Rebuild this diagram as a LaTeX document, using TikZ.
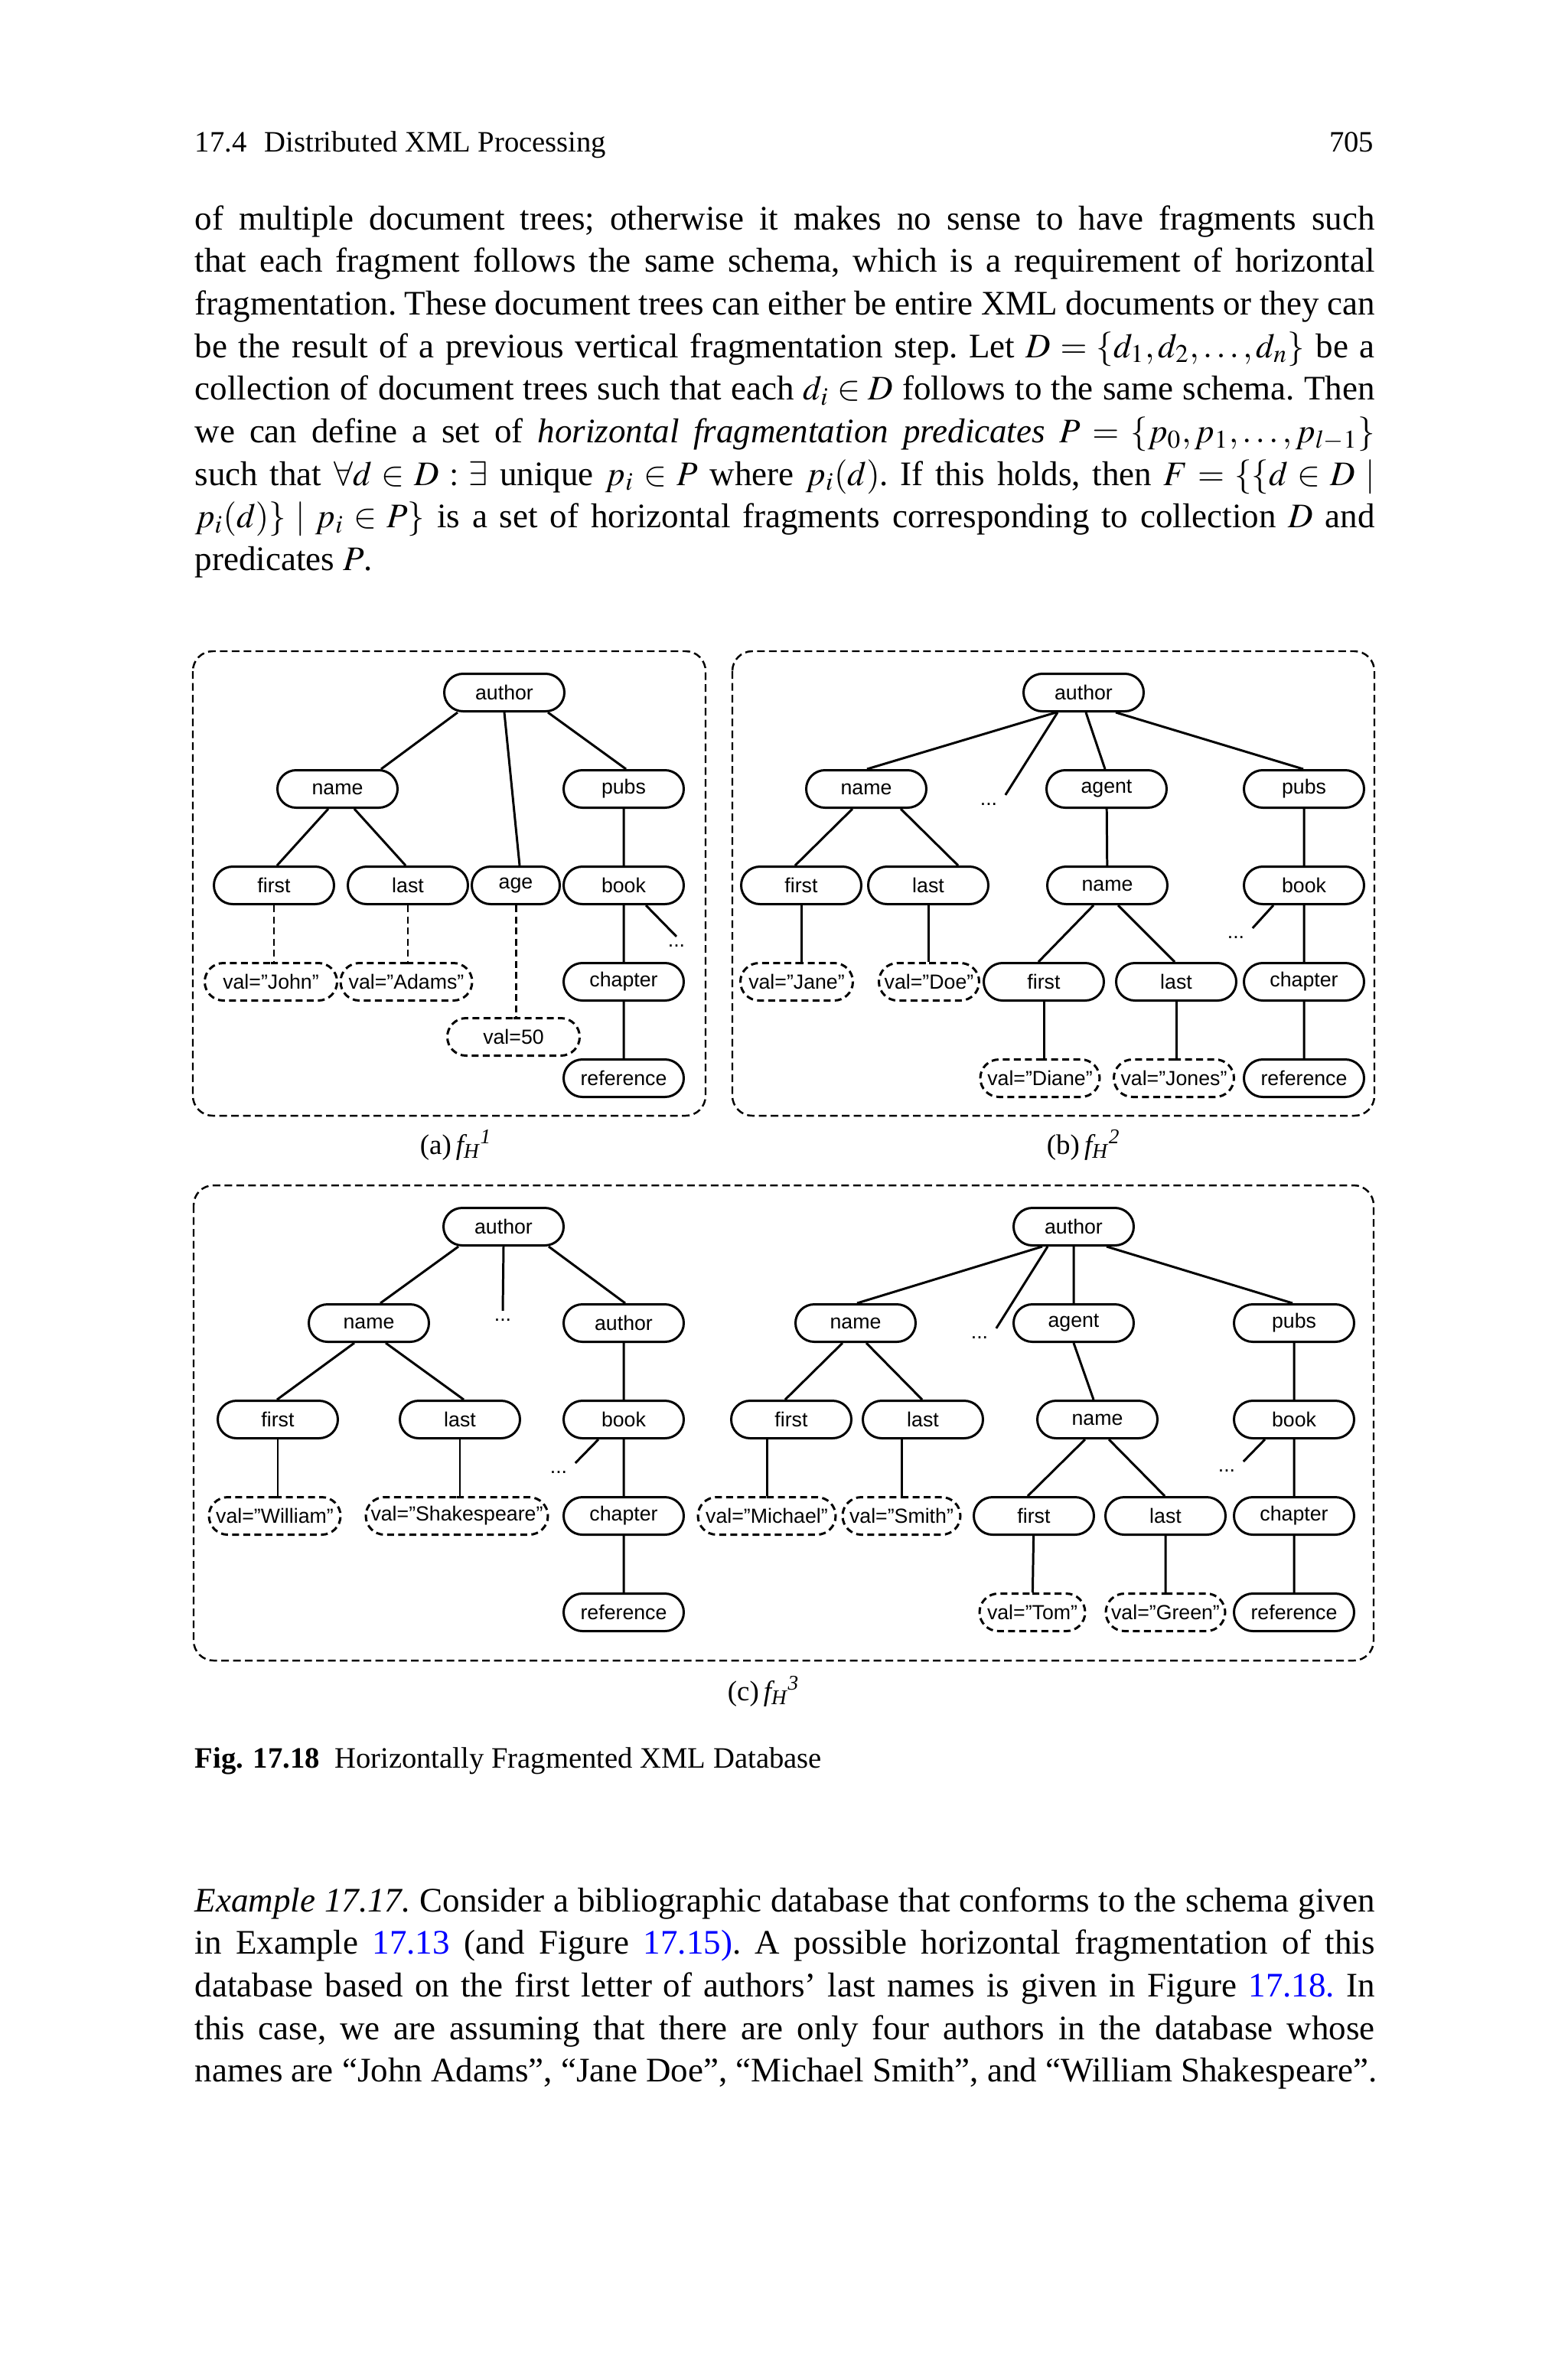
\documentclass[tikz,border=0pt]{standalone}
\usepackage{mathptmx}
\usepackage[no-math]{fontspec}
\setmainfont{Liberation Serif}
\newfontfamily\treefont{Liberation Sans}
\usetikzlibrary{shapes.misc}

\newlength\linew
\setlength\linew{15.42cm}
\newcommand\jl[1]{\hbox to\linew{#1}}
\newcommand\lastl[1]{\hbox{#1}}
\newcommand\fH[1]{\textit{f\textsubscript{H}\textsuperscript{#1}}}

\tikzset{
  elem/.style={draw, rounded rectangle, line width=0.85pt, minimum width=15.7mm,
    minimum height=4.9mm, inner sep=0pt, font=\treefont\fontsize{7.6}{9}\selectfont},
  valbox/.style={elem, dash pattern=on 0.9mm off 0.55mm},
  more/.style={inner sep=1mm, font=\treefont\fontsize{7.6}{9}\selectfont},
  link/.style={line width=0.85pt},
  hop/.style={dash pattern=on 0.9mm off 0.55mm},
  frame/.style={line width=0.7pt, dash pattern=on 1mm off 0.55mm, rounded corners=2.6mm},
  body/.style={anchor=base west, inner sep=0pt, font=\fontsize{12.8}{15.85}\selectfont},
  head/.style={inner sep=0pt, font=\fontsize{11}{13}\selectfont},
  sub/.style={anchor=base, inner sep=0pt, font=\fontsize{10.5}{12}\selectfont},
}

\begin{document}
\begin{tikzpicture}
\path[fill=white, use as bounding box] (0,0) rectangle (20.48,-31.05);

% running head
\node[head, anchor=base west] (runhead) at (2.54,-1.98) {17.4\hspace{0.6em}Distributed XML Processing};
\node[head, anchor=base east] (folio) at (17.96,-1.98) {705};

% text above the figure
\node[body] (para1) at (2.54,-3.00) {\vtop{\frenchspacing\baselineskip=5.57mm\lineskiplimit=-20pt
\jl{of multiple document trees; otherwise it makes no sense to have fragments such}
\jl{that each fragment follows the same schema, which is a requirement of horizontal}
\jl{fragmentation. These document trees can either be entire XML documents or they can}
\jl{be the result of a previous vertical fragmentation step. Let $D=\{d_1,d_2,\ldots,d_n\}$ be a}
\jl{collection of document trees such that each $d_i\in D$ follows to the same schema. Then}
\jl{we can define a set of \textit{horizontal fragmentation predicates} $P=\{p_0,p_1,\ldots,p_{l-1}\}$}
\jl{such that $\forall d\in D:\exists$ unique $p_i\in P$ where $p_i(d)$. If this holds, then $F=\{\{d\in D\mid$}
\jl{$p_i(d)\}\mid p_i\in P\}$ is a set of horizontal fragments corresponding to collection $D$ and}
\lastl{predicates $P$.}}};

% frames
\draw[frame] (2.52,-8.51) rectangle (9.22,-14.58);
\draw[frame] (9.57,-8.51) rectangle (17.96,-14.58);
\draw[frame] (2.53,-15.49) rectangle (17.95,-21.70);

% (a)
\node[elem] (A-author) at (6.59,-9.05) {author};
\node[elem] (A-name) at (4.41,-10.31) {name};
\node[elem] (A-pubs) at (8.15,-10.31) {pubs};
\node[elem] (A-first) at (3.58,-11.57) {first};
\node[elem] (A-last) at (5.33,-11.57) {last};
\node[elem, minimum width=11.5mm] (A-age) at (6.74,-11.57) {age};
\node[elem] (A-book) at (8.15,-11.57) {book};
\node[more] (A-more) at (8.84,-12.36) {...};
\node[valbox, minimum width=17.3mm] (A-john) at (3.54,-12.83) {val=”John”};
\node[valbox, minimum width=17.2mm] (A-adams) at (5.31,-12.83) {val=”Adams”};
\node[elem] (A-chapter) at (8.15,-12.83) {chapter};
\node[valbox, minimum width=17.3mm] (A-fifty) at (6.71,-13.55) {val=50};
\node[elem] (A-ref) at (8.15,-14.09) {reference};

\draw[link] ([xshift=-6.1mm]A-author.south) -- ([xshift=5.7mm]A-name.north);
\draw[link] (A-author.south) -- ([xshift=0.5mm]A-age.north);
\draw[link] ([xshift=5.7mm]A-author.south) -- ([xshift=0.3mm]A-pubs.north);
\draw[link] ([xshift=-1.2mm]A-name.south) -- ([xshift=0.4mm]A-first.north);
\draw[link] ([xshift=2.2mm]A-name.south) -- ([xshift=-0.3mm]A-last.north);
\draw[link] (A-pubs) -- (A-book);
\draw[link] (A-book) -- (A-chapter);
\draw[link] (A-chapter) -- (A-ref);
\draw[link] ([xshift=2.9mm]A-book.south) -- (A-more.north);
\draw[link, hop] (A-first.south) -- (A-first.south |- A-john.north);
\draw[link, hop] (A-last.south) -- (A-last.south |- A-adams.north);
\draw[link, hop] (A-age.south) -- (A-age.south |- A-fifty.north);
\node[sub] (cap-a) at (5.96,-15.08) {(a)\,\fH{1}};

% (b)
\node[elem] (B-author) at (14.16,-9.05) {author};
\node[elem] (B-name) at (11.32,-10.31) {name};
\node[more] (B-more1) at (12.92,-10.51) {...};
\node[elem] (B-agent) at (14.46,-10.31) {agent};
\node[elem] (B-pubs) at (17.04,-10.31) {pubs};
\node[elem] (B-first) at (10.47,-11.57) {first};
\node[elem] (B-last) at (12.13,-11.57) {last};
\node[elem] (B-aname) at (14.47,-11.57) {name};
\node[elem] (B-book) at (17.04,-11.57) {book};
\node[more] (B-more2) at (16.15,-12.25) {...};
\node[valbox, minimum width=14.7mm] (B-jane) at (10.41,-12.83) {val=”Jane”};
\node[valbox, minimum width=13.1mm] (B-doe) at (12.14,-12.83) {val=”Doe”};
\node[elem] (B-afirst) at (13.64,-12.83) {first};
\node[elem] (B-alast) at (15.37,-12.83) {last};
\node[elem] (B-chapter) at (17.04,-12.83) {chapter};
\node[valbox, minimum width=15.6mm] (B-diane) at (13.59,-14.09) {val=”Diane”};
\node[valbox, minimum width=15.7mm] (B-jones) at (15.34,-14.09) {val=”Jones”};
\node[elem] (B-ref) at (17.04,-14.09) {reference};

\draw[link] ([xshift=-3.6mm]B-author.south) -- ([xshift=0.1mm]B-name.north);
\draw[link] ([xshift=-3.4mm]B-author.south) -- (B-more1.north east);
\draw[link] ([xshift=0.3mm]B-author.south) -- ([xshift=-0.2mm]B-agent.north);
\draw[link] ([xshift=4.2mm]B-author.south) -- ([xshift=-0.1mm]B-pubs.north);
\draw[link] ([xshift=-1.8mm]B-name.south) -- ([xshift=-0.8mm]B-first.north);
\draw[link] ([xshift=4.5mm]B-name.south) -- ([xshift=3.9mm]B-last.north);
\draw[link] (B-first.south) -- (B-first.south |- B-jane.north);
\draw[link] (B-last.south) -- (B-last.south |- B-doe.north);
\draw[link] (B-agent) -- (B-aname);
\draw[link] ([xshift=-1.8mm]B-aname.south) -- ([xshift=-0.7mm]B-afirst.north);
\draw[link] ([xshift=1.4mm]B-aname.south) -- ([xshift=-0.2mm]B-alast.north);
\draw[link] (B-afirst.south) -- (B-afirst.south |- B-diane.north);
\draw[link] (B-alast.south) -- (B-alast.south |- B-jones.north);
\draw[link] (B-pubs) -- (B-book);
\draw[link] (B-book) -- (B-chapter);
\draw[link] (B-chapter) -- (B-ref);
\draw[link] ([xshift=-4mm]B-book.south) -- (B-more2.north east);
\node[sub] (cap-b) at (14.16,-15.08) {(b)\,\fH{2}};

% (c) left tree
\node[elem] (C-author) at (6.58,-16.03) {author};
\node[elem] (C-name) at (4.82,-17.29) {name};
\node[more] (C-more1) at (6.57,-17.25) {...};
\node[elem] (C-author2) at (8.15,-17.29) {author};
\node[elem] (C-first) at (3.63,-18.55) {first};
\node[elem] (C-last) at (6.01,-18.55) {last};
\node[elem] (C-book) at (8.15,-18.55) {book};
\node[more] (C-more2) at (7.30,-19.24) {...};
\node[valbox, minimum width=17.2mm] (C-william) at (3.59,-19.81) {val=”William”};
\node[valbox, minimum width=23.8mm] (C-shakes) at (5.97,-19.81) {val=”Shakespeare”};
\node[elem] (C-chapter) at (8.15,-19.81) {chapter};
\node[elem] (C-ref) at (8.15,-21.07) {reference};

\draw[link] ([xshift=-5.9mm]C-author.south) -- ([xshift=1.5mm]C-name.north);
\draw[link] (C-author.south) -- (C-more1.north);
\draw[link] ([xshift=5.9mm]C-author.south) -- ([xshift=0.2mm]C-author2.north);
\draw[link] ([xshift=-1.9mm]C-name.south) -- ([xshift=-0.1mm]C-first.north);
\draw[link] ([xshift=2.2mm]C-name.south) -- ([xshift=0.5mm]C-last.north);
\draw[link] (C-first.south) -- (C-first.south |- C-william.north);
\draw[link] (C-last.south) -- (C-last.south |- C-shakes.north);
\draw[link] (C-author2) -- (C-book);
\draw[link] (C-book) -- (C-chapter);
\draw[link] (C-chapter) -- (C-ref);
\draw[link] ([xshift=-3.3mm]C-book.south) -- (C-more2.north east);

% (c) right tree
\node[elem] (D-author) at (14.03,-16.03) {author};
\node[elem] (D-name) at (11.18,-17.29) {name};
\node[more] (D-more1) at (12.80,-17.48) {...};
\node[elem] (D-agent) at (14.03,-17.29) {agent};
\node[elem] (D-pubs) at (16.91,-17.29) {pubs};
\node[elem] (D-first) at (10.34,-18.55) {first};
\node[elem] (D-last) at (12.06,-18.55) {last};
\node[elem] (D-aname) at (14.34,-18.55) {name};
\node[elem] (D-book) at (16.91,-18.55) {book};
\node[more] (D-more2) at (16.03,-19.22) {...};
\node[valbox, minimum width=18mm] (D-michael) at (10.02,-19.81) {val=”Michael”};
\node[valbox, minimum width=15.4mm] (D-smith) at (11.78,-19.81) {val=”Smith”};
\node[elem] (D-afirst) at (13.51,-19.81) {first};
\node[elem] (D-alast) at (15.23,-19.81) {last};
\node[elem] (D-chapter) at (16.91,-19.81) {chapter};
\node[valbox, minimum width=13.8mm] (D-tom) at (13.49,-21.07) {val=”Tom”};
\node[valbox, minimum width=15.6mm] (D-green) at (15.23,-21.07) {val=”Green”};
\node[elem] (D-ref) at (16.91,-21.07) {reference};

\draw[link] ([xshift=-4.1mm]D-author.south) -- ([xshift=0.2mm]D-name.north);
\draw[link] ([xshift=-3.4mm]D-author.south) -- (D-more1.north east);
\draw[link] (D-author) -- (D-agent);
\draw[link] ([xshift=4.3mm]D-author.south) -- ([xshift=-0.2mm]D-pubs.north);
\draw[link] (D-agent.south) -- ([xshift=-0.5mm]D-aname.north);
\draw[link] ([xshift=-1.7mm]D-name.south) -- ([xshift=-0.8mm]D-first.north);
\draw[link] ([xshift=1.4mm]D-name.south) -- ([xshift=-0.1mm]D-last.north);
\draw[link] ([xshift=-1.6mm]D-aname.south) -- ([xshift=-0.8mm]D-afirst.north);
\draw[link] ([xshift=1.5mm]D-aname.south) -- ([xshift=-0.1mm]D-alast.north);
\draw[link] (D-michael.north) -- (D-michael.north |- D-first.south);
\draw[link] (D-smith.north) -- (D-smith.north |- D-last.south);
\draw[link] (D-afirst) -- (D-tom);
\draw[link] (D-alast) -- (D-green);
\draw[link] (D-pubs) -- (D-book);
\draw[link] (D-book) -- (D-chapter);
\draw[link] (D-chapter) -- (D-ref);
\draw[link] ([xshift=-3.8mm]D-book.south) -- (D-more2.north east);
\node[sub] (cap-c) at (9.98,-22.22) {(c)\,\fH{3}};

% figure caption
\node[head, anchor=base west] (figcap) at (2.54,-23.10) {\textbf{Fig. 17.18}\enspace Horizontally Fragmented XML Database};

% text below the figure
\node[body] (para2) at (2.54,-24.98) {\vtop{\frenchspacing\baselineskip=5.57mm\lineskiplimit=-20pt
\jl{\textit{Example 17.17.} Consider a bibliographic database that conforms to the schema given}
\jl{in Example \textcolor{blue}{17.13} (and Figure \textcolor{blue}{17.15)}. A possible horizontal fragmentation of this}
\jl{database based on the first letter of authors’ last names is given in Figure \textcolor{blue}{17.18.} In}
\jl{this case, we are assuming that there are only four authors in the database whose}
\lastl{names are “John Adams”, “Jane Doe”, “Michael Smith”, and “William Shakespeare”.}}};
\end{tikzpicture}
\end{document}
